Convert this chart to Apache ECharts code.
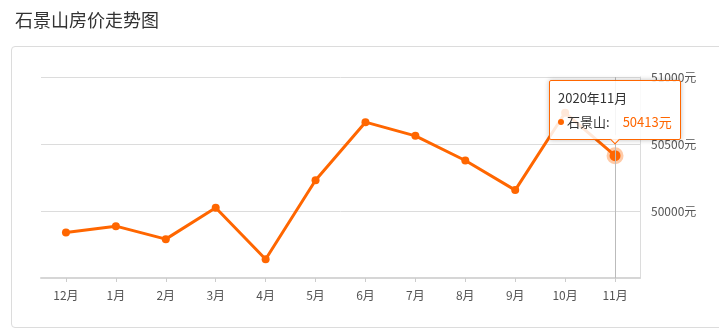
<!DOCTYPE html>
<html>
<head>
<meta charset="utf-8">
<script src="https://cdn.jsdelivr.net/npm/echarts@6/dist/echarts.min.js"></script>
<style>
  html, body { margin:0; padding:0; background:#fff; width:719px; height:329px; overflow:hidden; }
  #box { position:absolute; left:11px; top:46px; width:730px; height:280px; border:1px solid #dcdcdc; border-radius:4px; }
  #chart { position:absolute; left:0; top:0; width:719px; height:329px; }
</style>
</head>
<body>
<div id="box"></div>
<div id="chart"></div>
<script>
const months = ['12月','1月','2月','3月','4月','5月','6月','7月','8月','9月','10月','11月'];
const periods = ['2019年12月','2020年1月','2020年2月','2020年3月','2020年4月','2020年5月','2020年6月','2020年7月','2020年8月','2020年9月','2020年10月','2020年11月'];
const prices = [49840, 49887, 49790, 50024, 49640, 50229, 50663, 50561, 50377, 50156, 50733, 50413];
const seriesName = '石景山';
const activeIndex = 11;

const orange = '#ff6600';
const chart = echarts.init(document.getElementById('chart'), null, { renderer: 'canvas' });
chart.setOption({
  animation: false,
  textStyle: { fontFamily: '"Noto Sans CJK SC", "Noto Sans", sans-serif' },
  title: {
    text: '石景山房价走势图', left: 10, top: 6,
    textStyle: { fontSize: 18, fontWeight: 'normal', color: '#333', fontFamily: '"Noto Sans CJK SC", sans-serif' }
  },
  grid: { left: 41, right: 79, top: 77, bottom: 51 },
  tooltip: {
    trigger: 'item',
    triggerOn: 'none',
    alwaysShowContent: true,
    position: 'top',
    backgroundColor: 'rgba(255,255,255,0.85)',
    borderColor: orange,
    borderWidth: 1,
    padding: [5, 8],
    extraCssText: 'box-shadow:0 0 5px rgba(0,0,0,0.25);border-radius:2px;margin-top:3px;',
    textStyle: { fontSize: 13, color: '#333', fontFamily: '"Noto Sans CJK SC", sans-serif' },
    formatter: function (p) {
      return '<div style="line-height:24px">' + periods[p.dataIndex] + '</div>' +
        '<div style="line-height:24px"><span style="display:inline-block;width:6px;height:6px;border-radius:3px;background:' + orange + ';margin-right:3px;vertical-align:middle;position:relative;top:-1px"></span>' +
        p.seriesName + ':<span style="color:' + orange + ';margin-left:13px">' + p.value + '元</span></div>';
    }
  },
  xAxis: {
    type: 'category',
    data: months,
    boundaryGap: true,
    axisLine: { lineStyle: { color: '#d6d6d6', width: 2 } },
    axisTick: { show: true, alignWithLabel: true, length: 4, lineStyle: { color: '#ccc' } },
    axisLabel: { color: '#555', fontSize: 12, margin: 11 },
    axisPointer: {
      show: true, type: 'line', value: activeIndex, status: 'show', triggerTooltip: false,
      lineStyle: { color: '#bbb', width: 1, type: 'solid' },
      label: { show: false }
    }
  },
  yAxis: {
    type: 'value',
    position: 'right',
    min: 49500, max: 51000, interval: 500,
    axisLine: { show: true, lineStyle: { color: '#dcdcdc', width: 1 } },
    axisTick: { show: false },
    splitLine: { lineStyle: { color: '#dcdcdc', width: 1 } },
    axisLabel: { color: '#555', fontSize: 12, margin: 11, showMinLabel: false, formatter: function (v) { return v + '元'; } }
  },
  series: [{
    name: seriesName,
    type: 'line',
    symbol: 'circle',
    symbolSize: 8,
    showAllSymbol: true,
    lineStyle: { color: orange, width: 3 },
    itemStyle: { color: orange },
    emphasis: { disabled: true },
    data: prices.map(function (v, i) {
      return i === activeIndex
        ? { value: v, symbolSize: 11, itemStyle: { color: orange, borderColor: 'rgba(255,102,0,0.35)', borderWidth: 6 } }
        : v;
    })
  }]
});
chart.dispatchAction({ type: 'showTip', seriesIndex: 0, dataIndex: activeIndex });
</script>
</body>
</html>
